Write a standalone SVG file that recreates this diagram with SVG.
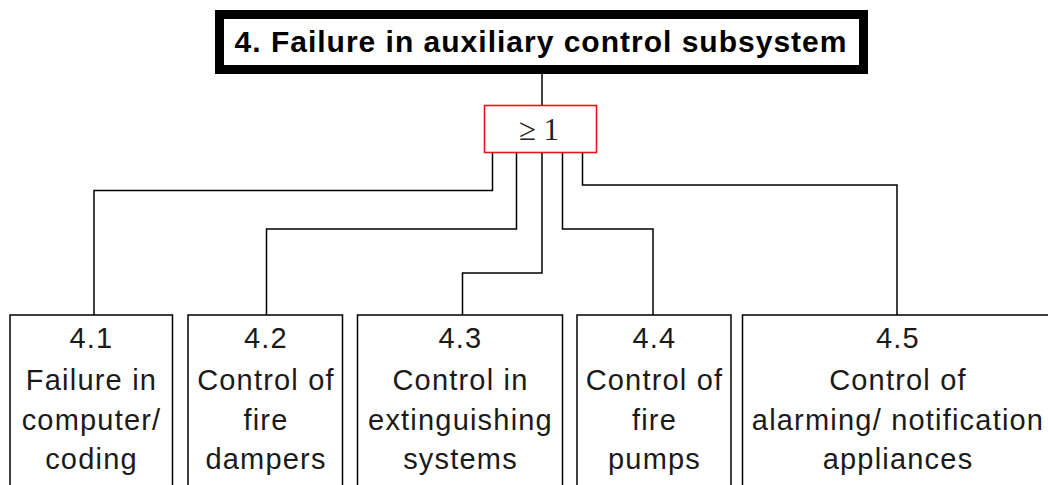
<svg xmlns="http://www.w3.org/2000/svg" width="1048" height="485" viewBox="0 0 1048 485">
  <style>
    .box { fill: #fff; stroke: #000; stroke-width: 1.5; }
    .top { fill: #fff; stroke: #000; stroke-width: 9; }
    .gate { fill: #fff; stroke: #e8141c; stroke-width: 1.6; }
    .wire { fill: none; stroke: #000; stroke-width: 1.5; }
    .title { font-family: "Liberation Sans", Arial, sans-serif; font-weight: bold; font-size: 30px; letter-spacing: 1px; fill: #000; text-anchor: middle; }
    .label { font-family: "Liberation Sans", Arial, sans-serif; font-size: 29px; letter-spacing: 1.2px; fill: #1a1a1a; text-anchor: middle; }
    .sym { font-family: "Liberation Serif", "Times New Roman", serif; font-size: 31px; fill: #222; text-anchor: middle; }
  </style>

  <rect width="1048" height="485" fill="#fff"/>

  <g id="connectors">
    <line class="wire" x1="542" y1="74" x2="542" y2="105"/>
    <polyline class="wire" points="492.5,153 492.5,190.5 94,190.5 94,315"/>
    <polyline class="wire" points="516.5,153 516.5,229 266.5,229 266.5,315"/>
    <polyline class="wire" points="542,153 542,273 462.5,273 462.5,315"/>
    <polyline class="wire" points="562.5,153 562.5,229 653,229 653,315"/>
    <polyline class="wire" points="582.5,153 582.5,185 897,185 897,315"/>
  </g>

  <g id="node-4">
    <rect class="top" x="219.5" y="14.5" width="644" height="55"/>
    <text class="title" x="541" y="51.5">4. Failure in auxiliary control subsystem</text>
  </g>

  <g id="gate-or">
    <rect class="gate" x="484.5" y="105.5" width="112" height="47"/>
    <text class="sym" x="539" y="140">≥ 1</text>
  </g>

  <g id="node-4-1">
    <rect class="box" x="10" y="315" width="162.5" height="180"/>
    <text class="label" x="91.5" y="348">4.1</text>
    <text class="label" x="91.5" y="390">Failure in</text>
    <text class="label" x="91.5" y="430">computer/</text>
    <text class="label" x="91.5" y="469">coding</text>
  </g>

  <g id="node-4-2">
    <rect class="box" x="188" y="315" width="154.5" height="180"/>
    <text class="label" x="266" y="348">4.2</text>
    <text class="label" x="266" y="390">Control of</text>
    <text class="label" x="266" y="430">fire</text>
    <text class="label" x="266" y="469">dampers</text>
  </g>

  <g id="node-4-3">
    <rect class="box" x="357.5" y="315" width="205" height="180"/>
    <text class="label" x="460.5" y="348">4.3</text>
    <text class="label" x="460.5" y="390">Control in</text>
    <text class="label" x="460.5" y="430">extinguishing</text>
    <text class="label" x="460.5" y="469">systems</text>
  </g>

  <g id="node-4-4">
    <rect class="box" x="577" y="315" width="154" height="180"/>
    <text class="label" x="654.5" y="348">4.4</text>
    <text class="label" x="654.5" y="390">Control of</text>
    <text class="label" x="654.5" y="430">fire</text>
    <text class="label" x="654.5" y="469">pumps</text>
  </g>

  <g id="node-4-5">
    <rect class="box" x="742.5" y="315" width="310" height="180"/>
    <text class="label" x="898" y="348">4.5</text>
    <text class="label" x="898" y="390">Control of</text>
    <text class="label" x="898" y="430">alarming/ notification</text>
    <text class="label" x="898" y="469">appliances</text>
  </g>
</svg>
